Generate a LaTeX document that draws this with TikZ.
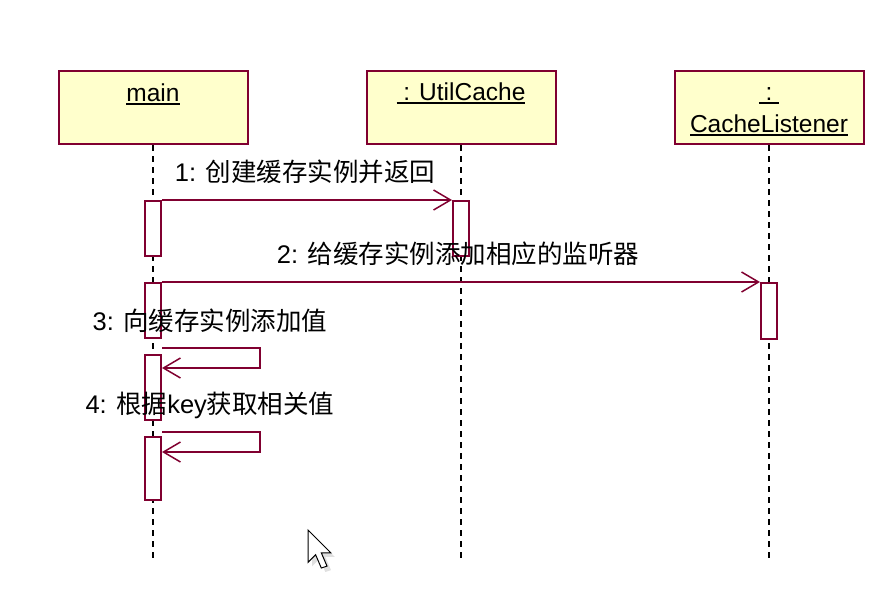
\documentclass[tikz,border=0pt]{standalone}
\usepackage{fontspec}
\setmainfont{Liberation Sans}
\newfontfamily\cjk{Noto Sans CJK SC}
\usetikzlibrary{arrows.meta}
\definecolor{umlred}{RGB}{128,0,48}
\definecolor{umlfill}{RGB}{255,255,204}
\newcommand\objul[1]{\setbox0\hbox{#1}\rlap{\copy0}\rule[-3.5pt]{\wd0}{1.6pt}}

\begin{document}
\begin{tikzpicture}[x=1pt, y=-1pt,
    obj/.style={draw=umlred, fill=umlfill, line width=2pt, minimum width=189pt, minimum height=73pt, inner sep=0pt},
    act/.style={draw=umlred, fill=white, line width=2pt, minimum width=16pt, inner sep=0pt},
    life/.style={line width=1.5pt, dash pattern=on 6pt off 5pt},
    msg/.style={draw=umlred, line width=2pt, -{Straight Barb[length=17pt, width=20pt, line width=1.5pt]}},
    otxt/.style={font=\fontsize{24.5}{28}\selectfont, anchor=base, inner sep=0pt},
    txt/.style={font=\fontsize{25.5}{29}\selectfont, anchor=base, inner sep=0pt}]
    \useasboundingbox (0,0) rectangle (894,600);
    % objects
    \node[obj] (main) at (153,107.5) {};
    \node[obj] (util) at (461,107.5) {};
    \node[obj] (lis) at (769,107.5) {};
    \node[otxt] (tmain) at (153,101) {\objul{main}};
    \node[otxt] (tutil) at (461,100) {\objul{\ : UtilCache}};
    \node[otxt] (tcolon) at (769,100) {\objul{\ :\ }};
    \node[otxt] (tlis) at (769,132) {\objul{CacheListener}};
    % lifelines
    \coordinate (mainend) at (153,560);
    \coordinate (utilend) at (461,560);
    \coordinate (lisend) at (769,560);
    \draw[life] (main.south) -- (mainend);
    \draw[life] (util.south) -- (utilend);
    \draw[life] (lis.south) -- (lisend);
    % activations
    \node[act, minimum height=55pt] (a1) at (153,228.5) {};
    \node[act, minimum height=55pt] (a2) at (153,310.5) {};
    \node[act, minimum height=65pt] (a3) at (153,387.5) {};
    \node[act, minimum height=63pt] (a4) at (153,468.5) {};
    \node[act, minimum height=55pt] (u1) at (461,228.5) {};
    \node[act, minimum height=56pt] (c1) at (769,311) {};
    % messages
    \draw[msg] (a1.north east) -- (u1.north west);
    \draw[msg] (a2.north east) -- (c1.north west);
    \draw[msg] ([yshift=6pt]a3.north east) -- ++(98,0) -- ++(0,20) -- ([yshift=-14pt]a3.north east);
    \draw[msg] ([yshift=4pt]a4.north east) -- ++(98,0) -- ++(0,20) -- ([yshift=-16pt]a4.north east);
    \node[txt] (l1) at (305,181) {1: {\cjk 创建缓存实例并返回}};
    \node[txt] (l2) at (458,263) {2: {\cjk 给缓存实例添加相应的监听器}};
    \node[txt] (l3) at (210,330) {3: {\cjk 向缓存实例添加值}};
    \node[txt] (l4) at (210,413) {4: {\cjk 根据}key{\cjk 获取相关值}};
    % mouse pointer
    \fill[gray!40, opacity=0.6, shift={(312,534)}, scale=1.9] (0,0) -- (0,17) -- (4,13) -- (7,20) -- (10,19) -- (7,12) -- (12,12) -- cycle;
    \draw[fill=white, line width=1pt, shift={(308,530)}, scale=1.9] (0,0) -- (0,17) -- (4,13) -- (7,20) -- (10,19) -- (7,12) -- (12,12) -- cycle;
\end{tikzpicture}
\end{document}
